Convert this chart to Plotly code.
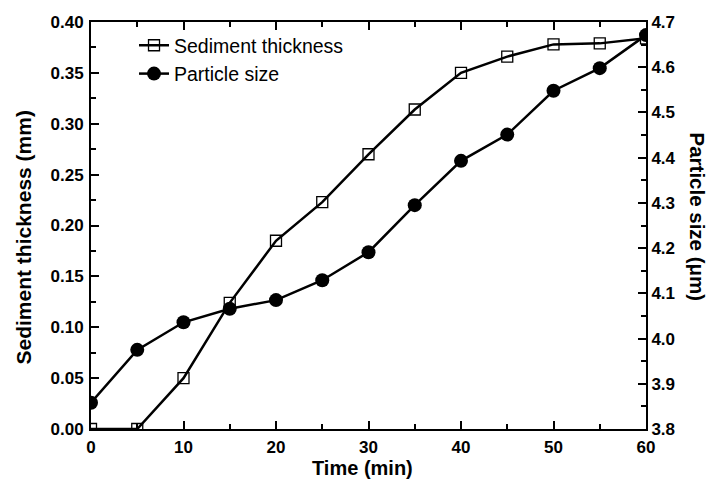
import plotly.graph_objects as go

time_min = [0, 5, 10, 15, 20, 25, 30, 35, 40, 45, 50, 55, 60]
sediment_thickness = [0.0, 0.0, 0.050, 0.124, 0.185, 0.223, 0.270, 0.314, 0.350, 0.366, 0.378, 0.379, 0.384]
particle_size = [3.858, 3.975, 4.036, 4.066, 4.085, 4.129, 4.191, 4.295, 4.393, 4.451, 4.548, 4.598, 4.671]

left_ticks = [0.00, 0.05, 0.10, 0.15, 0.20, 0.25, 0.30, 0.35, 0.40]
right_ticks = [3.8, 3.9, 4.0, 4.1, 4.2, 4.3, 4.4, 4.5, 4.6, 4.7]
x_ticks = [0, 10, 20, 30, 40, 50, 60]

FONT = "Liberation Sans, Arial, sans-serif"

fig = go.Figure()
fig.add_trace(go.Scatter(
    x=time_min, y=sediment_thickness, name="Sediment thickness",
    mode="lines+markers",
    line=dict(color="black", width=2.5),
    marker=dict(symbol="square-open", size=11, color="black", line=dict(width=1.3)),
    yaxis="y",
))
fig.add_trace(go.Scatter(
    x=time_min, y=particle_size, name="Particle size",
    mode="lines+markers",
    line=dict(color="black", width=2.5),
    marker=dict(symbol="circle", size=14, color="black"),
    yaxis="y2",
))

tickfont = dict(family=FONT, size=17, color="black", weight="bold")
titlefont = dict(family=FONT, size=21, color="black", weight="bold")

fig.update_layout(
    width=709, height=479,
    margin=dict(l=91, r=63, t=22, b=50, autoexpand=False),
    paper_bgcolor="white", plot_bgcolor="white",
    showlegend=True,
    legend=dict(x=0.0775, y=0.99, xanchor="left", yanchor="top",
                font=dict(family=FONT, size=19.5, color="black"),
                bgcolor="rgba(0,0,0,0)", tracegroupgap=0, itemwidth=30),
    xaxis=dict(
        range=[0, 60], tickvals=x_ticks, ticktext=[str(v) for v in x_ticks],
        ticks="inside", ticklen=8, tickwidth=2, tickcolor="black",
        minor=dict(ticks="inside", ticklen=5, tickwidth=2, tickcolor="black", dtick=5, tick0=0),
        showline=True, linewidth=2, linecolor="black", mirror="ticks",
        showgrid=False, zeroline=False, tickfont=tickfont, ticklabelstandoff=2,
    ),
    yaxis=dict(
        range=[0, 0.40], tickvals=left_ticks, ticktext=[f"{v:.2f}" for v in left_ticks],
        ticks="inside", ticklen=8, tickwidth=2, tickcolor="black",
        minor=dict(ticks="inside", ticklen=5, tickwidth=2, tickcolor="black", dtick=0.025, tick0=0),
        showline=True, linewidth=2, linecolor="black",
        showgrid=False, zeroline=False, tickfont=tickfont, ticklabelstandoff=2,
    ),
    yaxis2=dict(
        range=[3.8, 4.7], tickvals=right_ticks, ticktext=[f"{v:.1f}" for v in right_ticks],
        overlaying="y", side="right",
        ticks="inside", ticklen=8, tickwidth=2, tickcolor="black",
        minor=dict(ticks="inside", ticklen=5, tickwidth=2, tickcolor="black", dtick=0.05, tick0=3.8),
        showline=True, linewidth=2, linecolor="black",
        showgrid=False, zeroline=False, tickfont=tickfont,
    ),
    annotations=[
        dict(text="Time (min)", xref="paper", yref="paper", x=0.5, y=0,
             xanchor="center", yanchor="middle", xshift=-6, yshift=-39,
             showarrow=False, font=dict(family=FONT, size=20, color="black", weight="bold")),
        dict(text="Sediment thickness (mm)", textangle=-90, xref="paper", yref="paper",
             x=0, y=0.5, xanchor="center", yanchor="middle", xshift=-68, yshift=-12,
             showarrow=False, font=titlefont),
        dict(text="Particle size (μm)", textangle=90, xref="paper", yref="paper",
             x=1, y=0.5, xanchor="center", yanchor="middle", xshift=51, yshift=9,
             showarrow=False, font=dict(family=FONT, size=20.5, color="black", weight="bold")),
    ],
)

fig.write_html("out.html", config={"displayModeBar": False},
               post_script="document.body.style.margin='0px';document.body.style.overflow='hidden';")
